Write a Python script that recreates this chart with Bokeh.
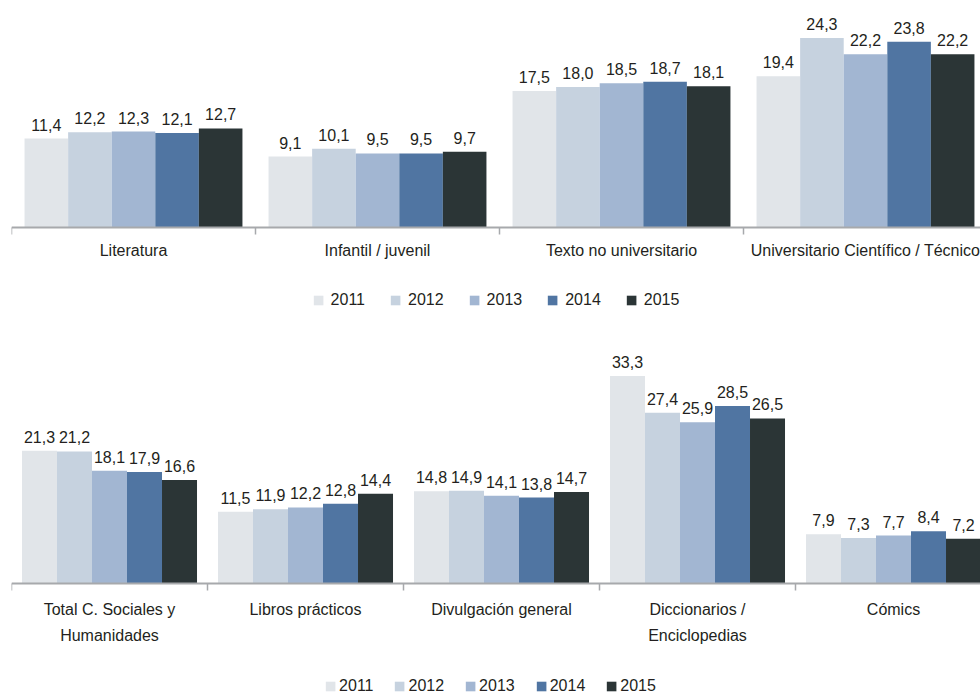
from bokeh.plotting import figure
from bokeh.models import ColumnDataSource, Range1d, FixedTicker, Legend, LegendItem
from bokeh.layouts import column
from bokeh.transform import dodge
from bokeh.core.properties import value
from bokeh.embed import file_html
from bokeh.resources import INLINE

# ---------------- data ----------------
years = ["2011", "2012", "2013", "2014", "2015"]
colors = ["#E1E5E9", "#C6D2DF", "#A2B6D2", "#5075A2", "#2B3536"]

top_cats = ["Literatura", "Infantil / juvenil", "Texto no universitario",
            "Universitario Científico / Técnico"]
top_2011 = [11.4, 9.1, 17.5, 19.4]
top_2012 = [12.2, 10.1, 18.0, 24.3]
top_2013 = [12.3, 9.5, 18.5, 22.2]
top_2014 = [12.1, 9.5, 18.7, 23.8]
top_2015 = [12.7, 9.7, 18.1, 22.2]

bot_cats = ["Total C. Sociales y\nHumanidades", "Libros prácticos",
            "Divulgación general", "Diccionarios /\nEnciclopedias", "Cómics"]
bot_2011 = [21.3, 11.5, 14.8, 33.3, 7.9]
bot_2012 = [21.2, 11.9, 14.9, 27.4, 7.3]
bot_2013 = [18.1, 12.2, 14.1, 25.9, 7.7]
bot_2014 = [17.9, 12.8, 13.8, 28.5, 8.4]
bot_2015 = [16.6, 14.4, 14.7, 26.5, 7.2]

FONT = "Liberation Sans"
TXT = "#231F20"
AXC = "#A7A9AC"


def fmt(v):
    return f"{v:.1f}".replace(".", ",")


def make_panel(cats, series, frame_w, x_end, px_per_unit, above_px, below_px,
               border_left, border_top, standoff, leg_margin, leg_spacing,
               leg_standoff):
    n = len(cats)
    data = {"x": [i + 0.5 for i in range(n)]}
    for yr, vals in zip(years, series):
        data[yr] = vals
        data["lbl" + yr] = [fmt(v) for v in vals]
    src = ColumnDataSource(data)

    p = figure(frame_width=frame_w, frame_height=above_px + below_px,
               output_backend="svg", toolbar_location=None,
               x_range=Range1d(0, x_end),
               y_range=Range1d(-below_px / px_per_unit, above_px / px_per_unit),
               y_axis_location=None,
               min_border_left=border_left, min_border_right=0,
               min_border_top=border_top, min_border_bottom=0)
    p.outline_line_color = None
    p.xgrid.visible = False
    p.ygrid.visible = False
    p.background_fill_color = None
    p.border_fill_color = None

    group = 0.893
    w = group / len(years)
    items = []
    for j, (yr, c) in enumerate(zip(years, colors)):
        off = (j - 2) * w
        r = p.vbar(x=dodge("x", off, range=p.x_range), top=yr, width=w,
                   bottom=0, source=src, fill_color=c, line_color=None)
        p.text(x=dodge("x", off, range=p.x_range), y=yr, text="lbl" + yr,
               source=src, text_align="center", text_baseline="alphabetic",
               y_offset=-14, text_font=value(FONT), text_font_size="16px",
               text_color=TXT)
        items.append(LegendItem(label=yr, renderers=[r]))

    ax = p.xaxis[0]
    ax.fixed_location = 0
    ax.ticker = FixedTicker(ticks=[i + 0.5 for i in range(n)],
                            minor_ticks=list(range(n + 1)))
    ax.major_label_overrides = {i + 0.5: c for i, c in enumerate(cats)}
    ax.major_tick_line_color = None
    ax.major_tick_out = 0
    ax.major_tick_in = 0
    ax.minor_tick_line_color = AXC
    ax.minor_tick_line_width = 1.5
    ax.minor_tick_out = 7
    ax.minor_tick_in = 0
    ax.axis_line_color = AXC
    ax.axis_line_width = 2
    ax.major_label_standoff = standoff
    ax.major_label_text_font = FONT
    ax.major_label_text_font_size = "16px"
    ax.major_label_text_color = TXT
    ax.major_label_text_line_height = 1.55

    leg = Legend(items=items, orientation="horizontal", location="bottom_center",
                 border_line_color=None, background_fill_alpha=0,
                 glyph_width=12, glyph_height=12, label_height=12,
                 label_standoff=leg_standoff, spacing=leg_spacing, padding=0,
                 margin=leg_margin, label_text_font=FONT,
                 label_text_font_size="16px", label_text_color=TXT)
    p.add_layout(leg, "center")
    return p


p1 = make_panel(top_cats, [top_2011, top_2012, top_2013, top_2014, top_2015],
                frame_w=969, x_end=969 / 244, px_per_unit=7.8,
                above_px=227, below_px=85, border_left=11, border_top=0,
                standoff=7, leg_margin=3, leg_spacing=24, leg_standoff=7)
p2 = make_panel(bot_cats, [bot_2011, bot_2012, bot_2013, bot_2014, bot_2015],
                frame_w=971, x_end=971 / 196, px_per_unit=6.23,
                above_px=243, below_px=112, border_left=9, border_top=28,
                standoff=10, leg_margin=0, leg_spacing=20, leg_standoff=3)

layout = column(p1, p2, spacing=0)
open("out.html", "w").write(file_html(layout, INLINE))
